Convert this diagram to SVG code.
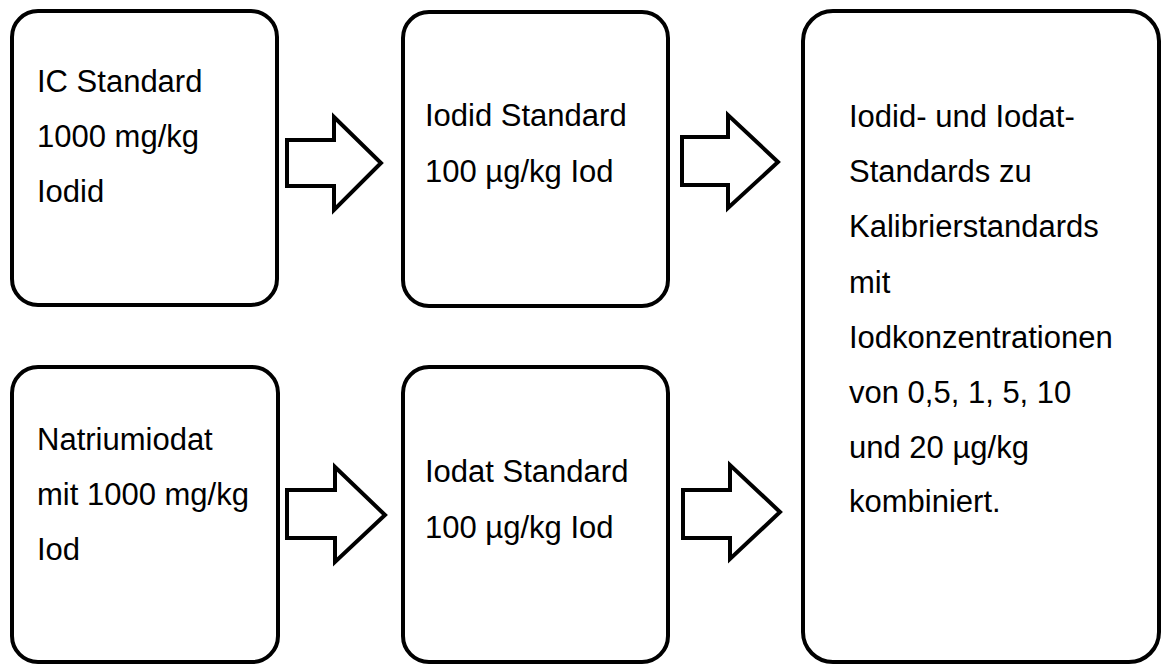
<svg xmlns="http://www.w3.org/2000/svg" width="1166" height="666" viewBox="0 0 1166 666">
<style>
.box{fill:#fff;stroke:#000;stroke-width:4}
.arr{fill:#fff;stroke:#000;stroke-width:4;stroke-linejoin:miter}
text{font-family:"Liberation Sans",Arial,sans-serif;font-size:31px;fill:#000}
</style>
<rect width="1166" height="666" fill="#fff"/>
<g id="node-ic-standard">
<rect class="box" x="12" y="11" width="265" height="294" rx="26" ry="26"/>
<text x="37" y="92">IC Standard</text>
<text x="37" y="147">1000 mg/kg</text>
<text x="37" y="202">Iodid</text>
</g>
<g id="node-iodid-standard">
<rect class="box" x="403" y="12" width="265" height="294" rx="26" ry="26"/>
<text x="425" y="126">Iodid Standard</text>
<text x="425" y="182">100 µg/kg Iod</text>
</g>
<g id="node-natriumiodat">
<rect class="box" x="12" y="367" width="266" height="295" rx="26" ry="26"/>
<text x="37" y="450">Natriumiodat</text>
<text x="37" y="505">mit 1000 mg/kg</text>
<text x="37" y="560">Iod</text>
</g>
<g id="node-iodat-standard">
<rect class="box" x="403" y="367" width="265" height="295" rx="26" ry="26"/>
<text x="425" y="482">Iodat Standard</text>
<text x="425" y="538">100 µg/kg Iod</text>
</g>
<g id="node-kalibrier">
<rect class="box" x="803" y="11" width="356" height="651" rx="30" ry="30"/>
<text x="849" y="127">Iodid- und Iodat-</text>
<text x="849" y="182">Standards zu</text>
<text x="849" y="237">Kalibrierstandards</text>
<text x="849" y="293">mit</text>
<text x="849" y="348">Iodkonzentrationen</text>
<text x="849" y="403">von 0,5, 1, 5, 10</text>
<text x="849" y="458">und 20 µg/kg</text>
<text x="849" y="512">kombiniert.</text>
</g>
<g id="connectors">
<polygon class="arr" points="287,140 334,140 334,117 381,163 334,210 334,186 287,186"/>
<polygon class="arr" points="682,137 728,137 728,115 778,162 728,208 728,185 682,185"/>
<polygon class="arr" points="287,490 335,490 335,467 385,515 335,562 335,538 287,538"/>
<polygon class="arr" points="683,490 730,490 730,465 780,512 730,559 730,538 683,538"/>
</g>
</svg>
